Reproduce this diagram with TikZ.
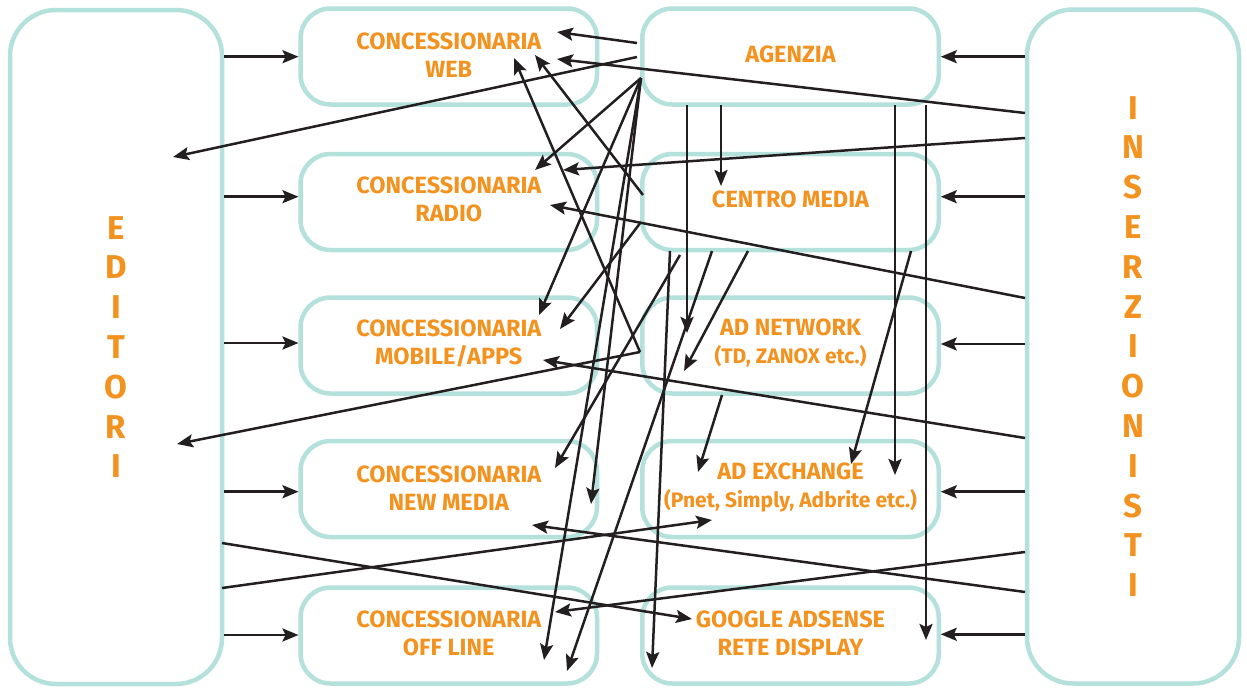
\documentclass[tikz,border=0pt]{standalone}
\usepackage{fontspec}
\setmainfont{Fira Sans}
\usetikzlibrary{arrows.meta,calc}
\definecolor{boxteal}{RGB}{181,225,220}
\definecolor{txtorange}{RGB}{243,146,30}
\definecolor{arrowdark}{RGB}{35,31,32}
\begin{document}
\begin{tikzpicture}[x=1pt,y=-1pt,
  box/.style={draw=boxteal, line width=4.5pt, rounded corners=30pt, minimum width=296.5pt, minimum height=96pt, inner sep=0pt, outer sep=2pt, align=center, text=txtorange, font=\bfseries\fontsize{23.5}{28}\selectfont},
  side/.style={draw=boxteal, line width=4.5pt, rounded corners=46pt, minimum width=212pt, minimum height=674pt, inner sep=0pt, outer sep=2pt, align=center, text=txtorange, font=\bfseries\fontsize{33}{39.8}\selectfont},
  conn/.style={draw=arrowdark, line width=2.5pt, -{Stealth[length=16pt,width=13pt,inset=3pt]}},
  lbl/.style={text=txtorange, align=center, font=\bfseries\fontsize{23.5}{28}\selectfont, inner sep=0pt}
]
\fill[white] (0,0) rectangle (1247,688);
\useasboundingbox (0,0) rectangle (1247,688);

% side boxes
\node[side] (ed) at (116,347) {E\\D\\I\\T\\O\\R\\I};
\node[side] (ins) at (1133,346.5) {I\\N\\S\\E\\R\\Z\\I\\O\\N\\I\\S\\T\\I};

% left column
\node[box] (cw) at (448.75,56.5) {};
\node[box] (cr) at (448.75,202) {};
\node[box] (cmo) at (448.75,345.5) {};
\node[box] (cn) at (448.75,489) {};
\node[box] (co) at (448.75,635.5) {};
\node[lbl] (cwt) at ($(cw.center)+(0,-1.5)$) {CONCESSIONARIA\\WEB};
\node[lbl] (crt) at ($(cr.center)+(0,-3)$) {CONCESSIONARIA\\RADIO};
\node[lbl] (cmot) at ($(cmo.center)+(0,-2)$) {CONCESSIONARIA\\MOBILE/APPS};
\node[lbl] (cnt) at ($(cn.center)+(0,-1)$) {CONCESSIONARIA\\NEW MEDIA};
\node[lbl] (cot) at ($(co.center)+(0,-2)$) {CONCESSIONARIA\\OFF LINE};

% right column
\node[box] (ag) at (790.5,56.5) {};
\node[box] (cm) at (790.5,202) {};
\node[box] (an) at (790.5,345.5) {};
\node[box] (ae) at (790.5,489) {};
\node[box] (ga) at (790.5,635.5) {};
\node[lbl] (agt) at ($(ag.center)+(0,-2.5)$) {AGENZIA};
\node[lbl] (cmt) at ($(cm.center)+(0,-3)$) {CENTRO MEDIA};
\node[lbl] (ant) at ($(an.center)+(0,-2)$) {AD NETWORK\\{\fontsize{21}{28}\selectfont (TD, ZANOX etc.)}};
\node[lbl] (aet) at ($(ae.center)+(0,-2)$) {AD EXCHANGE\\{\fontsize{21}{28}\selectfont (Pnet, Simply, Adbrite etc.)}};
\node[lbl] (gat) at ($(ga.center)+(0,-2)$) {GOOGLE ADSENSE\\RETE DISPLAY};

% horizontal arrows editori -> concessionarie
\draw[conn] (ed.east |- 0,56.7) -- (cw.west |- 0,56.7);
\draw[conn] (ed.east |- 0,196.7) -- (cr.west |- 0,196.7);
\draw[conn] (ed.east |- 0,343) -- (cmo.west |- 0,343);
\draw[conn] (ed.east |- 0,491.7) -- (cn.west |- 0,491.7);
\draw[conn] (ed.east |- 0,635) -- (co.west |- 0,635);

% horizontal arrows inserzionisti -> right boxes
\draw[conn] (ins.west |- 0,56.7) -- (ag.east |- 0,56.7);
\draw[conn] (ins.west |- 0,196.7) -- (cm.east |- 0,196.7);
\draw[conn] (ins.west |- 0,344) -- (an.east |- 0,344);
\draw[conn] (ins.west |- 0,491.7) -- (ae.east |- 0,491.7);
\draw[conn] (ins.west |- 0,634.3) -- (ga.east |- 0,634.3);

% connector end points
\coordinate (agA) at (637,43);   \coordinate (cwA) at (557,32);
\coordinate (agB) at (637,57);   \coordinate (edB) at (173,157);
\coordinate (insA) at (1025,113); \coordinate (cwB) at (557,59);
\coordinate (agF) at (641,78);
\coordinate (crA) at (535,170);
\coordinate (cmoA) at (539,315);
\coordinate (cnA) at (591,504);
\coordinate (coA) at (544,660);
\coordinate (cmA) at (643,195);  \coordinate (cwC) at (535,55);
\coordinate (anA) at (640,352);
\coordinate (cwD) at (514,58);
\coordinate (edC) at (177,444);
\coordinate (insB) at (1025,138); \coordinate (crB) at (563,170);
\coordinate (insC) at (1025,298); \coordinate (crC) at (550,205);
\coordinate (cmB) at (641,222);  \coordinate (cmoB) at (560,329);
\coordinate (insD) at (1025,438); \coordinate (cmoC) at (543,360);
\coordinate (cmC) at (680,255);  \coordinate (cnB) at (555,468);
\coordinate (cmD) at (712,251);  \coordinate (coB) at (567,671);
\coordinate (cmE) at (670,251);  \coordinate (gaA) at (652,668);
\coordinate (cmF) at (748,251);  \coordinate (anB) at (684,371);
\coordinate (agV1) at (687,105); \coordinate (anC) at (687,333);
\coordinate (agV2) at (721,105); \coordinate (cmH) at (721,186);
\coordinate (agV3) at (895,105); \coordinate (aeB) at (895,475);
\coordinate (agV4) at (926,105); \coordinate (gaB) at (926,640);
\coordinate (cmG) at (911,251);  \coordinate (aeA) at (851,464);
\coordinate (anD) at (722,395);  \coordinate (aeC) at (698,472);
\coordinate (edD) at (222,588);  \coordinate (aeD) at (712,520);
\coordinate (edE) at (222,543);  \coordinate (gaC) at (692,619);
\coordinate (insE) at (1025,592); \coordinate (cnC) at (532,525);
\coordinate (insF) at (1025,552); \coordinate (coC) at (555,612);

% agenzia
\draw[conn] (agA) -- (cwA);
\draw[conn] (agB) -- (edB);
\draw[conn] (agF) -- (crA);
\draw[conn] (agF) -- (cmoA);
\draw[conn] (agF) -- (cnA);
\draw[conn] (agF) -- (coA);
\draw[conn] (agV1) -- (anC);
\draw[conn] (agV2) -- (cmH);
\draw[conn] (agV3) -- (aeB);
\draw[conn] (agV4) -- (gaB);

% centro media
\draw[conn] (cmA) -- (cwC);
\draw[conn] (cmB) -- (cmoB);
\draw[conn] (cmC) -- (cnB);
\draw[conn] (cmD) -- (coB);
\draw[conn] (cmE) -- (gaA);
\draw[conn] (cmF) -- (anB);
\draw[conn] (cmG) -- (aeA);

% ad network
\draw[conn] (anA) -- (cwD);
\draw[conn] (anA) -- (edC);
\draw[conn] (anD) -- (aeC);

% inserzionisti
\draw[conn] (insA) -- (cwB);
\draw[conn] (insB) -- (crB);
\draw[conn] (insC) -- (crC);
\draw[conn] (insD) -- (cmoC);
\draw[conn] (insE) -- (cnC);
\draw[conn] (insF) -- (coC);

% editori
\draw[conn] (edD) -- (aeD);
\draw[conn] (edE) -- (gaC);
\end{tikzpicture}
\end{document}
